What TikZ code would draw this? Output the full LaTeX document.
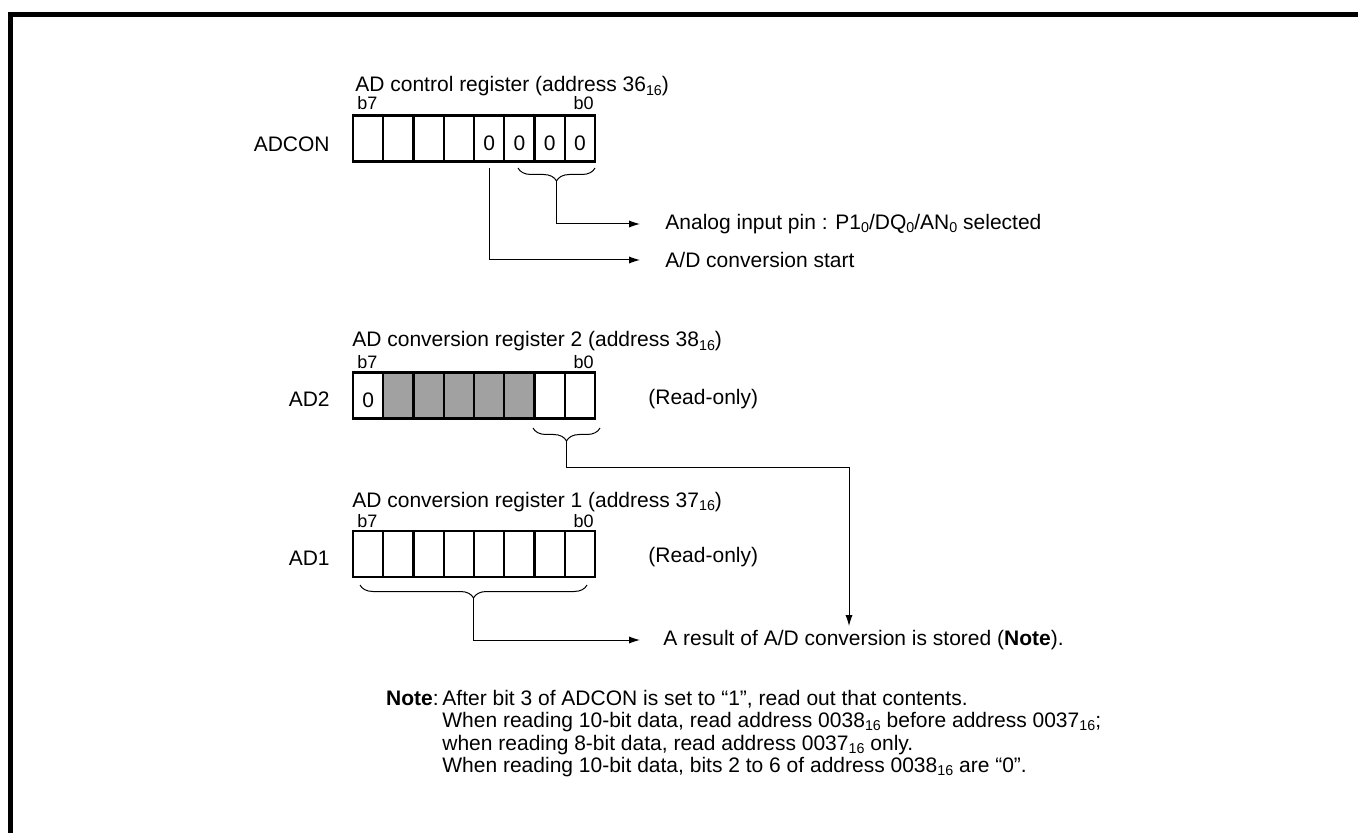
\documentclass[tikz,border=0pt]{standalone}
\usepackage{fontspec}
\setmainfont{Liberation Sans}
\usetikzlibrary{arrows.meta, decorations.pathreplacing, calc}
\newcommand\idx[1]{\raisebox{-0.3ex}{\scalebox{0.68}{#1}}}

\begin{document}
\begin{tikzpicture}[x=0.5pt,y=0.5pt]
\tikzset{bitcell/.style={draw,line width=1.2pt,minimum width=15.125pt,minimum height=23pt,inner sep=0pt,outer sep=0pt},
         greycell/.style={bitcell,fill=black!37},
         txt/.style={inner sep=0pt,font=\fontsize{10.5}{12}\selectfont},
         bitno/.style={inner sep=0pt,font=\fontsize{9}{10}\selectfont},
         noteline/.style={txt,anchor=base west},
         link/.style={line width=0.5pt},
         linkarrow/.style={link,-{Latex[length=5.5pt,width=3.6pt]}},
         bitbrace/.style={decorate,decoration={brace,mirror,amplitude=6.5pt},line width=0.5pt}}
\def\cellw{30.25}\def\xzero{368.125}
\def\yadcon{138.5}\def\yadtwo{395.5}\def\yadone{554}
\useasboundingbox (0,0) rectangle (1358,-833);
% Frame
\draw[line width=2.5pt] (1358,-14.5) -- (10.5,-14.5) -- (10.5,-833);

% ADCON register
\node[txt,anchor=base west] (adcontitle) at (355,-92) {AD control register (address 36\idx{16})};
\node[bitno,anchor=base west] (adconb7) at (357,-110) {b7};
\node[bitno,anchor=base east] (adconb0) at (594,-110) {b0};
\node[txt,anchor=east] (adconname) at (330,-144) {ADCON};
\foreach \i in {7,...,0}
  \node[bitcell] (adcon\i) at ({\xzero+\cellw*(7-\i)},-\yadcon) {};
\foreach \i in {3,...,0}
  \node[txt] (adconv\i) at ([yshift=-2.5pt]adcon\i.center) {0};
% bits 1,0 and bit 3
\draw[bitbrace] (518,-168) -- (595,-168);
\coordinate (adcontip) at (556.5,-181);
\node[txt,anchor=west] (analoglbl) at (665,-224) {Analog input pin : P1\idx{0}/DQ\idx{0}/AN\idx{0} selected};
\node[txt,anchor=west] (startlbl) at (665,-260) {A/D conversion start};
\draw[linkarrow,shorten >=12.5pt] (adcontip) |- (analoglbl.west);
\draw[linkarrow,shorten >=12.5pt] ([yshift=-3.25pt]adcon3.south) |- (startlbl.west);

% AD2 register
\node[txt,anchor=base west] (adtwotitle) at (352,-347) {AD conversion register 2 (address 38\idx{16})};
\node[bitno,anchor=base west] (adtwob7) at (357,-369) {b7};
\node[bitno,anchor=base east] (adtwob0) at (594,-369) {b0};
\node[txt,anchor=east] (adtwoname) at (330,-399) {AD2};
\foreach \i/\s in {7/bitcell,6/greycell,5/greycell,4/greycell,3/greycell,2/greycell,1/bitcell,0/bitcell}
  \node[\s] (adtwo\i) at ({\xzero+\cellw*(7-\i)},-\yadtwo) {};
\node[txt] (adtwov7) at ([yshift=-2.5pt]adtwo7.center) {0};
\node[txt,anchor=west] (adtworo) at (648,-399) {(Read-only)};
\draw[bitbrace] (533,-428) -- (600,-428);
\coordinate (adtwotip) at (566.5,-441);
\coordinate (storedin) at (849,-626);
\draw[linkarrow] (adtwotip) -- ++(0,-26) -| (storedin);

% AD1 register
\node[txt,anchor=base west] (adonetitle) at (352,-507) {AD conversion register 1 (address 37\idx{16})};
\node[bitno,anchor=base west] (adoneb7) at (357,-527) {b7};
\node[bitno,anchor=base east] (adoneb0) at (594,-527) {b0};
\node[txt,anchor=east] (adonename) at (330,-558) {AD1};
\foreach \i in {7,...,0}
  \node[bitcell] (adone\i) at ({\xzero+\cellw*(7-\i)},-\yadone) {};
\node[txt,anchor=west] (adonero) at (648,-557) {(Read-only)};
\draw[bitbrace] (360,-585) -- (587,-585);
\coordinate (adonetip) at (473.5,-598);
\node[txt,anchor=west] (storedlbl) at (663,-640) {A result of A/D conversion is stored (\textbf{Note}).};
\draw[linkarrow,shorten >=11.5pt] (adonetip) |- (storedlbl.west);

% Note
\node[txt,anchor=base east] (notehead) at (439,-705) {\textbf{Note}:};
\node[noteline] (notel1) at (442,-705) {After bit 3 of ADCON is set to “1”, read out that contents.};
\node[noteline] (notel2) at (442,-727.5) {When reading 10-bit data, read address 0038\idx{16} before address 0037\idx{16};};
\node[noteline] (notel3) at (442,-750) {when reading 8-bit data, read address 0037\idx{16} only.};
\node[noteline] (notel4) at (442,-772.5) {When reading 10-bit data, bits 2 to 6 of address 0038\idx{16} are “0”.};
\end{tikzpicture}
\end{document}
